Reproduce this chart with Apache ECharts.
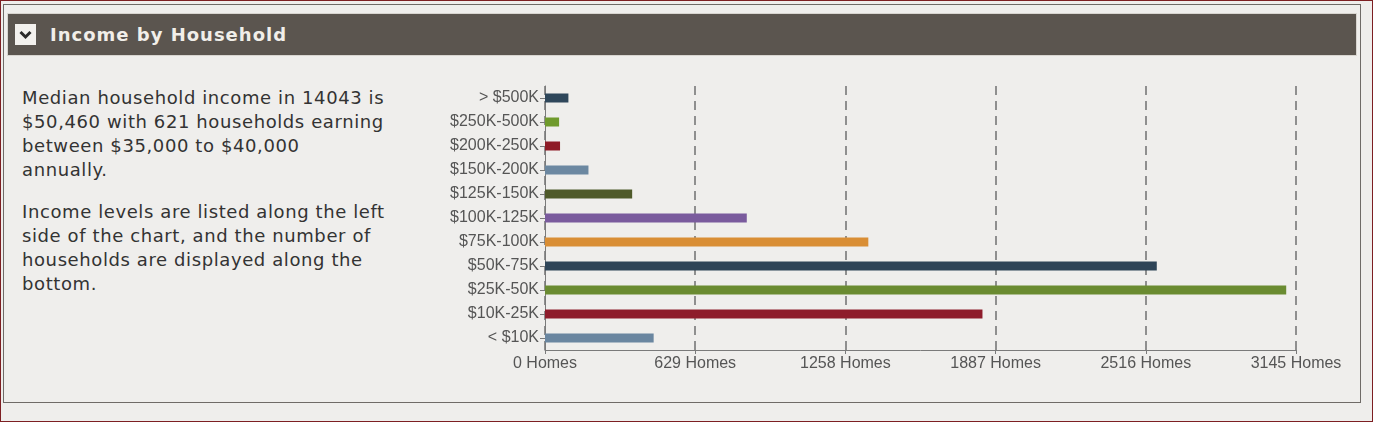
<!DOCTYPE html>
<html>
<head>
<meta charset="utf-8">
<title>Income by Household</title>
<script src="https://cdn.jsdelivr.net/npm/echarts@6/dist/echarts.min.js"></script>
<style>
    html, body {
        margin: 0;
        padding: 0;
        width: 1373px;
        height: 422px;
        overflow: hidden;
        background: #efeeec;
    }
    #frame {
        position: absolute;
        left: 0; top: 0;
        width: 1371px; height: 420px;
        border: 1px solid #7d1f22;
        background: #efeeec;
    }
    #panel {
        position: absolute;
        left: 3px; top: 4px;
        width: 1356px; height: 397px;
        border: 1px solid #6f6b67;
        background: #efeeec;
    }
    #header {
        position: absolute;
        left: 8px; top: 14px;
        width: 1348px; height: 41px;
        background: #5b554f;
        outline: 1px solid #d8d5d0;
    }
    #toggle {
        position: absolute;
        left: 15px; top: 24px;
        width: 21px; height: 21px;
        background: #f3f1ee;
    }
    #title {
        position: absolute;
        left: 50px; top: 23px;
        font-family: "DejaVu Sans", Verdana, sans-serif;
        font-weight: bold;
        font-size: 18px;
        letter-spacing: 1px;
        line-height: 24px;
        color: #f1eee9;
    }
    #desc {
        position: absolute;
        left: 22px; top: 86px;
        width: 400px;
        font-family: "DejaVu Sans", Verdana, sans-serif;
        font-size: 18px;
        letter-spacing: 0.6px;
        line-height: 24px;
        color: #333;
    }
    #desc p { margin: 0 0 18px 0; }
    #chart {
        position: absolute;
        left: 0; top: 0;
        width: 1373px; height: 422px;
    }
</style>
</head>
<body>
<div id="frame"></div>
<div id="panel"></div>
<div id="header"></div>
<div id="toggle">
    <svg width="21" height="21" viewBox="0 0 21 21">
        <polyline points="5.5,8 10.5,13 15.5,8" fill="none" stroke="#2b2b2b" stroke-width="3"/>
    </svg>
</div>
<div id="title">Income by Household</div>
<div id="desc">
    <p>Median household income in 14043 is<br>$50,460 with 621 households earning<br>between $35,000 to $40,000<br>annually.</p>
    <p>Income levels are listed along the left<br>side of the chart, and the number of<br>households are displayed along the<br>bottom.</p>
</div>
<div id="chart"></div>
<script>
// income brackets, top to bottom as drawn
var incomeLevels = ['> $500K', '$250K-500K', '$200K-250K', '$150K-200K', '$125K-150K',
    '$100K-125K', '$75K-100K', '$50K-75K', '$25K-50K', '$10K-25K', '< $10K'];

// number of homes per bracket
var homes = [98, 59, 63, 182, 365, 845, 1354, 2562, 3104, 1832, 455];

// x axis ticks: 0, 629, ... 3145
var axisStep = 629;
var axisMax = 3145;

var barColors = ['#2f475b', '#6f9a2c', '#8e1b26', '#6c88a1', '#4f5a2a',
    '#7a5b9d', '#d98e35', '#2e4457', '#6a8b31', '#8e1c2b', '#6a86a0'];

function ShowIncomeChart(div_name) {
    var myChart = echarts.init(document.getElementById(div_name));
    var barData = [];
    for (var i = 0; i < homes.length; i++) {
        barData.push({ value: homes[i], itemStyle: { color: barColors[i] } });
    }
    myChart.setOption({
        animation: false,
        grid: {
            left: 545,
            right: 77,
            top: 86,
            bottom: 72
        },
        xAxis: [
            {
                type: 'value',
                min: 0,
                max: axisMax,
                interval: axisStep,
                axisLine: { show: true, lineStyle: { color: '#7a7a7a', width: 1 } },
                axisTick: { show: true, length: 4, lineStyle: { color: '#7a7a7a' } },
                axisLabel: {
                    formatter: function (v) { return v + ' Homes'; },
                    margin: 6,
                    color: '#555',
                    fontFamily: '"Liberation Sans", Arial, sans-serif',
                    fontSize: 16
                },
                splitLine: {
                    show: true,
                    lineStyle: { color: '#707070', type: [9, 6], width: 1.5 }
                }
            }
        ],
        yAxis: [
            {
                type: 'category',
                inverse: true,
                data: incomeLevels,
                axisLine: { show: true, lineStyle: { color: '#7a7a7a', width: 1 } },
                axisTick: { show: true, alignWithLabel: true, length: 5, lineStyle: { color: '#7a7a7a' } },
                axisLabel: {
                    margin: 6,
                    color: '#555',
                    fontFamily: '"Liberation Sans", Arial, sans-serif',
                    fontSize: 16
                },
                splitLine: { show: false }
            }
        ],
        series: [
            {
                type: 'bar',
                barWidth: 9,
                data: barData
            }
        ]
    });
}

ShowIncomeChart('chart');
</script>
</body>
</html>
